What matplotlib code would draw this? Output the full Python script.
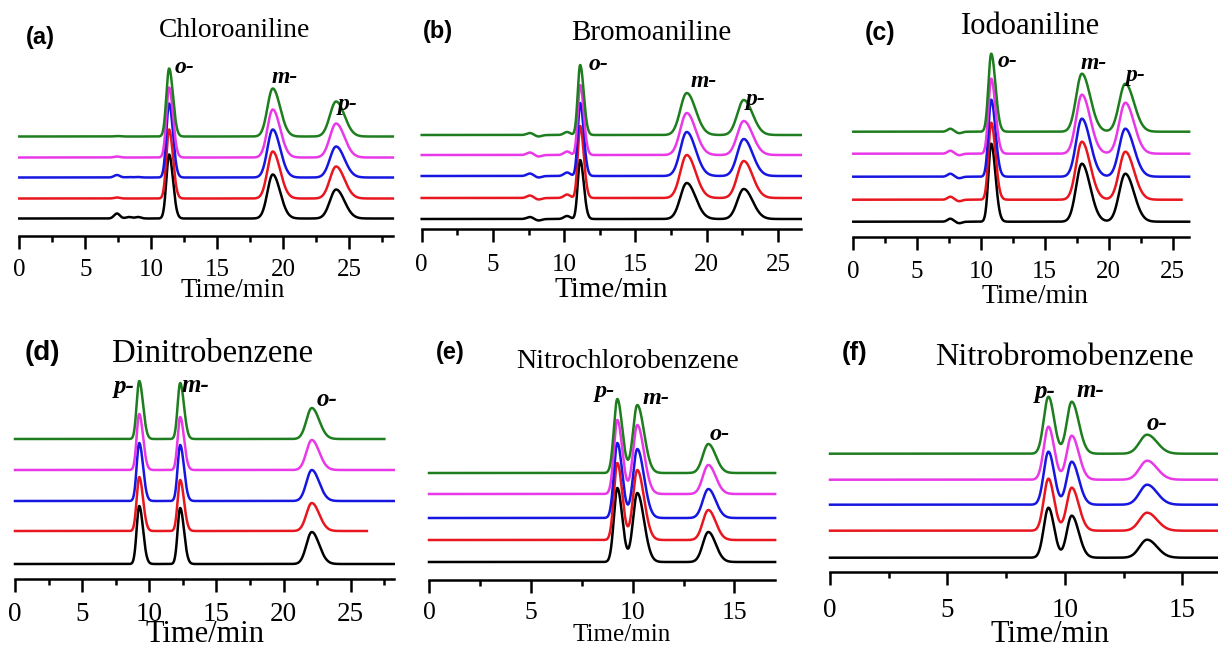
import numpy as np
import matplotlib.pyplot as plt

W, H = 1218, 648

# trace colours, bottom trace first
colors = ['#000000', '#e8161e', '#1616e0', '#e838e8', '#1e7d1e']

# ---- (a) Chloroaniline ----
a_names = ['o-', 'm-', 'p-']
a_rt = [11.35, 19.2, 24.0]
a_sig_l = [0.21, 0.40, 0.47]
a_sig_r = [0.29, 0.56, 0.63]
a_height = [[64, 44, 29], [69, 47, 32], [74, 48, 31], [70, 48, 34], [68, 48, 35]]
a_offset = [17, 37, 58, 78, 99]
a_end = [28.3, 28.3, 28.3, 28.3, 28.3]
a_bump_rt = [7.4, 8.3, 9.0]
a_bump_h = [[5, 1.5, 1.5], [1, 0, 0], [2.5, 0.5, 0.5], [1, 0, 0], [0.5, 0, 0]]

# ---- (b) Bromoaniline ----
b_names = ['o-', 'm-', 'p-']
b_rt = [11.12, 18.6, 22.6]
b_sig_l = [0.17, 0.45, 0.45]
b_sig_r = [0.25, 0.62, 0.62]
b_height = [[59, 36, 30], [72, 43, 37], [73, 44, 37], [70, 42, 34], [70, 42, 35]]
b_offset = [10, 31, 53, 74, 94]
b_end = [26.6, 26.6, 26.6, 26.6, 26.6]
b_bump_rt = [7.6, 8.2, 10.2]
b_bump_h = [[2, -1.5, 3], [2.5, -1.5, 3.5], [2.5, -1.5, 3.5], [2.5, -1.5, 3.5], [2, -1.5, 3]]

# ---- (c) Iodoaniline ----
c_names = ['o-', 'm-', 'p-']
c_rt = [10.8, 17.9, 21.3]
c_sig_l = [0.22, 0.45, 0.48]
c_sig_r = [0.33, 0.65, 0.68]
c_height = [[78, 58, 48], [77, 58, 48], [77, 58, 48], [75, 59, 51], [78, 58, 48]]
c_offset = [15, 37, 60, 83, 105]
c_end = [26.3, 25.7, 26.3, 26.3, 26.3]
c_bump_rt = [7.6, 8.3]
c_bump_h = [[3, -1.5], [3, -1.5], [3, -1.5], [3, -1.5], [3, -1.5]]

# ---- (d) Dinitrobenzene ----
d_names = ['p-', 'm-', 'o-']
d_rt = [9.25, 12.3, 22.1]
d_sig_l = [0.19, 0.19, 0.40]
d_sig_r = [0.28, 0.28, 0.55]
d_height = [[58, 56, 32], [54, 51, 28], [58, 56, 31], [56, 53, 30], [58, 56, 31]]
d_offset = [15, 48, 78, 109, 140]
d_end = [28.2, 26.2, 28.2, 28.2, 27.5]
d_bump_rt = []
d_bump_h = [[], [], [], [], []]

# ---- (e) Nitrochlorobenzene ----
e_names = ['p-', 'm-', 'o-']
e_rt = [9.25, 10.23, 13.72]
e_sig_l = [0.17, 0.21, 0.27]
e_sig_r = [0.24, 0.33, 0.36]
e_height = [[74, 69, 30], [77, 70, 30], [75, 69, 29], [74, 69, 29], [74, 68, 29]]
e_offset = [18, 40, 62, 86, 107]
e_end = [17, 17, 17, 17, 17]
e_bump_rt = []
e_bump_h = [[], [], [], [], []]

# ---- (f) Nitrobromobenzene ----
f_names = ['p-', 'm-', 'o-']
f_rt = [9.3, 10.29, 13.5]
f_sig_l = [0.20, 0.21, 0.32]
f_sig_r = [0.24, 0.30, 0.42]
f_height = [[50, 42, 18], [52, 43, 18], [53, 43, 20], [53, 44, 19], [57, 52, 19]]
f_offset = [14, 41, 67, 92, 118]
f_end = [16.6, 16.6, 16.6, 16.6, 16.6]
f_bump_rt = []
f_bump_h = [[], [], [], [], []]

panels = [
    ('(a)', 'Chloroaniline', a_names, a_rt, a_sig_l, a_sig_r, a_height, a_offset, a_end, a_bump_rt, a_bump_h),
    ('(b)', 'Bromoaniline', b_names, b_rt, b_sig_l, b_sig_r, b_height, b_offset, b_end, b_bump_rt, b_bump_h),
    ('(c)', 'Iodoaniline', c_names, c_rt, c_sig_l, c_sig_r, c_height, c_offset, c_end, c_bump_rt, c_bump_h),
    ('(d)', 'Dinitrobenzene', d_names, d_rt, d_sig_l, d_sig_r, d_height, d_offset, d_end, d_bump_rt, d_bump_h),
    ('(e)', 'Nitrochlorobenzene', e_names, e_rt, e_sig_l, e_sig_r, e_height, e_offset, e_end, e_bump_rt, e_bump_h),
    ('(f)', 'Nitrobromobenzene', f_names, f_rt, f_sig_l, f_sig_r, f_height, f_offset, f_end, f_bump_rt, f_bump_h),
]

# layout in pixels: axis left, axis line y, px per minute, x max, tick pad,
# tick font, panel tag, title (x, baseline, size), Time/min (x, baseline, size)
layout = [
    dict(left=19.3, axis=235.5, ppm=13.2, xmax=28.3, pad=8.0, tfs=18,
         tag=(40, 37.5, 17), title=(234.7, 37, 19.8), xl=(232.5, 297, 19.3), lfs=17,
         lab=[(12.55, 168), (20.1, 158), (24.85, 131)]),
    dict(left=421.7, axis=229, ppm=14.25, xmax=26.6, pad=9.0, tfs=18,
         tag=(437.5, 31.7, 17), title=(651, 40, 21), xl=(611, 297, 21), lfs=17,
         lab=[(12.4, 165), (19.8, 148), (23.4, 130)]),
    dict(left=853.3, axis=236.7, ppm=12.77, xmax=26.3, pad=8.5, tfs=18,
         tag=(880, 33, 18), title=(1030.8, 34, 22), xl=(1035, 303, 19.8), lfs=17,
         lab=[(12.1, 175), (18.8, 173.4), (22.1, 161.7)]),
    dict(left=15, axis=579, ppm=13.43, xmax=28.2, pad=7.5, tfs=19.5,
         tag=(42.5, 353, 20), title=(213, 361.7, 23.5), xl=(205, 642.5, 22), lfs=18,
         lab=[(8.1, 192), (13.4, 194), (23.2, 179)]),
    dict(left=429, axis=580, ppm=20.36, xmax=17.0, pad=7.0, tfs=18.5,
         tag=(450, 352.5, 17), title=(627.5, 368.3, 20.2), xl=(621.7, 641, 18), lfs=17.5,
         lab=[(8.64, 188.3), (11.15, 181.7), (14.3, 145)]),
    dict(left=830, axis=571.7, ppm=23.49, xmax=16.6, pad=10.0, tfs=19.5,
         tag=(855, 352.8, 18.5), title=(1065, 365, 23.3), xl=(1050, 641.5, 22), lfs=18,
         lab=[(9.15, 180), (11.07, 181.7), (13.94, 148.4)]),
]

serif = 'Liberation Serif'
sans = 'Liberation Sans'
bump_sig = 0.22
ax_h = 215


def chromatogram(t, rts, heights, sig_l, sig_r):
    y = np.zeros_like(t)
    for rt, h, sl, sr in zip(rts, heights, sig_l, sig_r):
        s = np.where(t < rt, sl, sr)
        y += h * np.exp(-0.5 * ((t - rt) / s) ** 2)
    return y


fig = plt.figure(figsize=(W / 100, H / 100), dpi=100)

for (tag, title, names, rt, sl, sr, heights, offsets, ends, brt, bh), L in zip(panels, layout):
    width = L['xmax'] * L['ppm']
    ax = fig.add_axes([L['left'] / W, 1 - L['axis'] / H, width / W, ax_h / H])
    ax.set_xlim(0, L['xmax'])
    ax.set_ylim(0, ax_h)

    for i in range(5):
        t = np.linspace(0, ends[i], 3000)
        y = offsets[i] + chromatogram(t, rt, heights[i], sl, sr)
        y += chromatogram(t, brt, bh[i], [bump_sig] * len(brt), [bump_sig] * len(brt))
        ax.plot(t, y, color=colors[i], lw=1.8, clip_on=False, solid_joinstyle='round')

    for name, (lx, ly) in zip(names, L['lab']):
        ax.text(lx, ly, name, ha='center', va='center', family=serif,
                weight='bold', style='italic', fontsize=L['lfs'])

    for s in ['left', 'right', 'top']:
        ax.spines[s].set_visible(False)
    ax.spines['bottom'].set_linewidth(1.8)
    ax.set_yticks([])
    ax.set_xticks(np.arange(0, L['xmax'] + 0.01, 5))
    ax.set_xticks(np.arange(2.5, L['xmax'] + 0.01, 5), minor=True)
    ax.tick_params(axis='x', which='major', direction='out', length=9, width=1.8,
                   pad=L['pad'], labelsize=L['tfs'])
    ax.tick_params(axis='x', which='minor', direction='out', length=4.5, width=1.8)
    for lbl in ax.get_xticklabels():
        lbl.set_family(serif)
    ax.patch.set_visible(False)

    tx, ty, tfs = L['tag']
    fig.text(tx / W, 1 - ty / H, tag, ha='center', va='center', family=sans,
             weight='bold', fontsize=tfs)
    hx, hy, hfs = L['title']
    fig.text(hx / W, 1 - hy / H, title, ha='center', va='baseline', family=serif,
             fontsize=hfs)
    xx, xy, xfs = L['xl']
    fig.text(xx / W, 1 - xy / H, 'Time/min', ha='center', va='baseline', family=serif,
             fontsize=xfs)

fig.savefig('out.png', dpi=100)
